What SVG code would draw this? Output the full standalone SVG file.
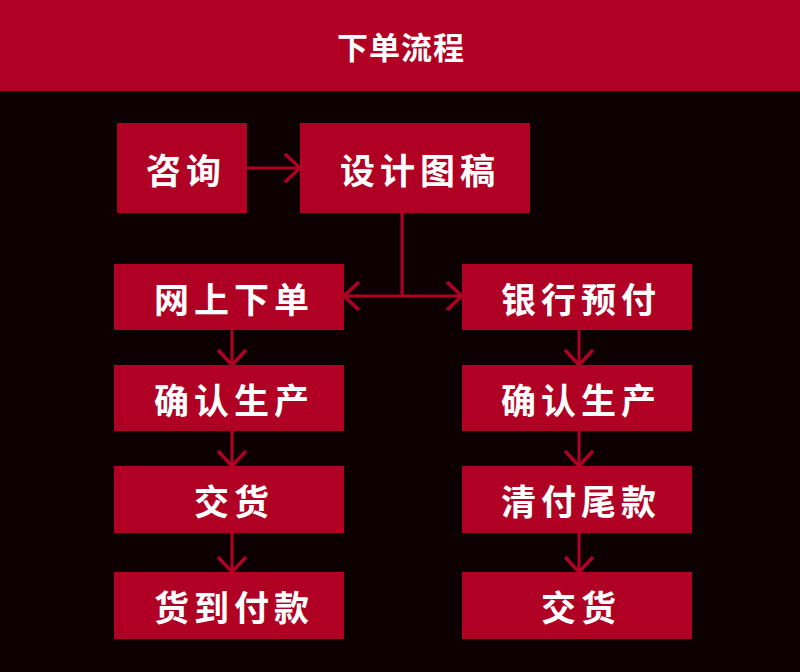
<svg xmlns="http://www.w3.org/2000/svg" width="800" height="672" viewBox="0 0 800 672">
<defs>
<style>
.box{fill:#b00024}
.t{fill:#ffffff;font-family:"Noto Sans CJK SC","Noto Sans",sans-serif;font-weight:700;font-size:35px;letter-spacing:5px;text-anchor:middle;dominant-baseline:central}
.title{fill:#ffffff;font-family:"Noto Sans CJK SC","Noto Sans",sans-serif;font-weight:700;font-size:31px;letter-spacing:1px;text-anchor:middle;dominant-baseline:central}
.ln{stroke:#b00024;stroke-width:3;fill:none}
</style>
<marker id="ah" viewBox="0 0 20 30" refX="18" refY="15" markerWidth="20" markerHeight="30" markerUnits="userSpaceOnUse" orient="auto-start-reverse">
<path d="M3,1 L18,15 L3,29" fill="none" stroke="#b00024" stroke-width="3.5"/>
</marker>
</defs>
<rect width="800" height="672" fill="#0d0003"/>
<g id="header">
<rect x="0" y="0" width="800" height="91" fill="#b00024"/>
<text class="title" x="401" y="45">下单流程</text>
</g>
<g id="connectors">
<line class="ln" x1="247" y1="168" x2="300" y2="168" marker-end="url(#ah)"/>
<line class="ln" x1="402" y1="213" x2="402" y2="296"/>
<line class="ln" x1="344" y1="296" x2="462" y2="296" marker-start="url(#ah)" marker-end="url(#ah)"/>
<line class="ln" x1="232" y1="330" x2="232" y2="365" marker-end="url(#ah)"/>
<line class="ln" x1="232" y1="431" x2="232" y2="466" marker-end="url(#ah)"/>
<line class="ln" x1="232" y1="533" x2="232" y2="572" marker-end="url(#ah)"/>
<line class="ln" x1="579" y1="330" x2="579" y2="365" marker-end="url(#ah)"/>
<line class="ln" x1="579" y1="431" x2="579" y2="466" marker-end="url(#ah)"/>
<line class="ln" x1="579" y1="533" x2="579" y2="572" marker-end="url(#ah)"/>
</g>
<g id="n-zixun"><rect class="box" x="117" y="123" width="130" height="90"/><text class="t" x="186" y="168">咨询</text></g>
<g id="n-sheji"><rect class="box" x="300" y="123" width="230" height="90"/><text class="t" x="420" y="168">设计图稿</text></g>
<g id="n-wangshang"><rect class="box" x="114" y="264" width="230" height="66"/><text class="t" x="234" y="297">网上下单</text></g>
<g id="n-queren1"><rect class="box" x="114" y="365" width="230" height="66"/><text class="t" x="234" y="398">确认生产</text></g>
<g id="n-jiaohuo1"><rect class="box" x="114" y="466" width="230" height="67"/><text class="t" x="234" y="499">交货</text></g>
<g id="n-huodao"><rect class="box" x="114" y="572" width="230" height="67"/><text class="t" x="234" y="605">货到付款</text></g>
<g id="n-yinhang"><rect class="box" x="462" y="264" width="230" height="66"/><text class="t" x="581" y="297">银行预付</text></g>
<g id="n-queren2"><rect class="box" x="462" y="365" width="230" height="66"/><text class="t" x="581" y="398">确认生产</text></g>
<g id="n-qingfu"><rect class="box" x="462" y="466" width="230" height="67"/><text class="t" x="581" y="499">清付尾款</text></g>
<g id="n-jiaohuo2"><rect class="box" x="462" y="572" width="230" height="67"/><text class="t" x="581" y="605">交货</text></g>
</svg>
